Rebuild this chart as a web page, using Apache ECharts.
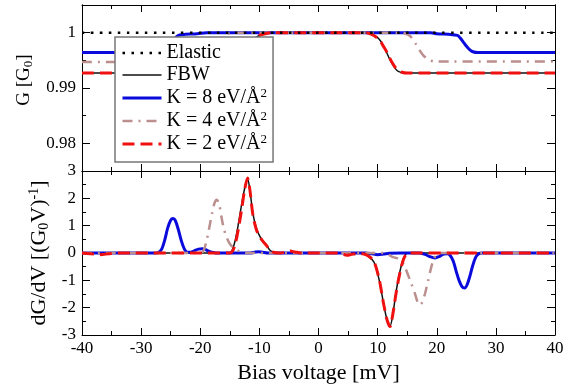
<!DOCTYPE html>
<html>
<head>
<meta charset="utf-8">
<script src="https://cdn.jsdelivr.net/npm/echarts@6/dist/echarts.min.js"></script>
<style>
  html, body { margin: 0; padding: 0; background: #fff; }
  #chart { width: 579px; height: 385px; }
</style>
</head>
<body>
<div id="chart"></div>
<script>
// conductance G [G0] vs bias voltage [mV]
const elasticG = [[-40, 1], [40, 1]];
const fbwG = [[-40, 0.9927], [-14.5, 0.9927], [-13.5, 0.9933], [-13, 0.9941], [-12.5, 0.9953], [-12, 0.9967], [-11.5, 0.9979], [-11, 0.9987], [-10.5, 0.9992], [-10, 0.9995], [-9, 0.9998], [-8, 1], [8, 1], [9, 0.9997], [10, 0.9991], [10.5, 0.9985], [11, 0.9976], [11.5, 0.9965], [12, 0.9953], [12.5, 0.9943], [13, 0.9935], [13.5, 0.9930], [14.5, 0.9927], [40, 0.9927]];
const k8G = [[-40, 0.9964], [-27, 0.9964], [-26, 0.9967], [-25.5, 0.9973], [-25, 0.998], [-24.5, 0.9987], [-24, 0.9993], [-23.5, 0.9996], [-22.5, 0.9997], [-20.5, 0.9998], [-19, 1], [19, 1], [20, 0.9998], [22, 0.9997], [23.5, 0.9995], [24, 0.999], [24.5, 0.9983], [25, 0.9976], [25.5, 0.997], [26, 0.9966], [27, 0.9964], [40, 0.9964]];
const k4G = [[-40, 0.9947], [-19.5, 0.9947], [-18.5, 0.9952], [-18, 0.996], [-17.5, 0.997], [-17, 0.998], [-16.5, 0.9989], [-16, 0.9995], [-15, 0.9999], [-14, 1], [14, 1], [15, 0.9997], [15.5, 0.9994], [16, 0.9987], [16.5, 0.9979], [17, 0.997], [17.5, 0.9962], [18, 0.9956], [18.5, 0.9952], [19.5, 0.9948], [40, 0.9948]];
const k2G = [[-40, 0.9927], [-14.5, 0.9927], [-13.5, 0.9932], [-13, 0.994], [-12.5, 0.9952], [-12, 0.9966], [-11.5, 0.9978], [-11, 0.9987], [-10.5, 0.9992], [-10, 0.9995], [-9, 0.9998], [-8, 1], [8, 1], [9, 0.9997], [10, 0.999], [10.5, 0.9984], [11, 0.9975], [11.5, 0.9966], [12, 0.9955], [12.5, 0.9945], [13, 0.9937], [13.5, 0.9932], [14, 0.9929], [15, 0.9927], [40, 0.9927]];

// dG/dV [(G0 V)^-1]
const fbwD = [[-40, 0], [-15, 0], [-14.6, 0.1], [-14.1, 0.45], [-13.6, 1.0], [-13.1, 1.65], [-12.5, 2.35], [-12, 2.72], [-11.6, 2.3], [-11.1, 1.45], [-10.5, 0.9], [-9.9, 0.6], [-9.3, 0.42], [-8.75, 0.27], [-8.2, 0.1], [-7.5, 0.02], [-6.5, 0], [6.5, 0], [7.5, -0.03], [8.5, -0.13], [9.4, -0.34], [10.3, -1.02], [11, -1.85], [11.6, -2.45], [12.1, -2.67], [12.6, -2.2], [13.1, -1.45], [13.6, -0.85], [14.2, -0.3], [14.7, -0.06], [15.2, 0], [40, 0]];
const k8D = [[-40, 0], [-27.5, 0], [-27, 0.03], [-26.5, 0.15], [-26, 0.48], [-25.5, 0.92], [-25, 1.2], [-24.6, 1.26], [-24.2, 1.18], [-23.7, 0.85], [-23.2, 0.45], [-22.7, 0.15], [-22.2, 0.03], [-21.6, 0.03], [-21, 0.08], [-20.3, 0.14], [-19.7, 0.16], [-19.1, 0.12], [-18.4, 0.05], [-17.6, 0.01], [-17, 0], [-11.5, 0], [-10.8, 0.03], [-10.2, 0.05], [-9.5, 0.03], [-8.5, 0], [8, 0], [9, -0.03], [10, -0.06], [11, -0.04], [12, -0.01], [14, 0], [17, 0], [18, -0.05], [18.8, -0.13], [19.7, -0.18], [20.5, -0.12], [21.2, -0.04], [21.8, -0.03], [22.3, -0.1], [22.8, -0.3], [23.3, -0.68], [23.8, -1.02], [24.3, -1.24], [24.7, -1.28], [25.1, -1.18], [25.6, -0.85], [26.1, -0.45], [26.6, -0.15], [27.1, -0.03], [27.6, 0], [40, 0]];
const k4D = [[-40, 0], [-20, 0], [-19.5, 0.06], [-19, 0.38], [-18.5, 0.9], [-18, 1.45], [-17.6, 1.82], [-17.2, 1.95], [-16.8, 1.78], [-16.4, 1.3], [-16, 0.88], [-15.5, 0.55], [-15, 0.34], [-14.4, 0.2], [-13.7, 0.1], [-13, 0.04], [-12, 0], [11, 0], [11.8, -0.06], [12.6, -0.15], [13.4, -0.2], [14, -0.28], [14.5, -0.45], [15.1, -0.78], [15.7, -1.12], [16.3, -1.48], [16.8, -1.82], [17.1, -1.9], [17.5, -1.82], [18, -1.5], [18.5, -1.05], [19, -0.58], [19.5, -0.22], [20, -0.05], [20.5, 0], [40, 0]];
const k2D = [[-40, 0], [-38.5, -0.03], [-37, -0.06], [-35.5, -0.03], [-34, 0], [-15, 0], [-14.5, 0.08], [-14, 0.4], [-13.5, 0.95], [-13, 1.6], [-12.5, 2.3], [-12, 2.74], [-11.6, 2.3], [-11.1, 1.4], [-10.5, 0.85], [-9.9, 0.58], [-9.3, 0.4], [-8.75, 0.26], [-8.2, 0.1], [-7.5, 0.02], [-6.5, 0], [-5.5, 0.04], [-4.8, 0.07], [-4, 0.04], [-3, 0], [3, 0], [4, -0.04], [4.8, -0.08], [5.6, -0.05], [6.5, -0.02], [7.5, -0.03], [8.5, -0.12], [9.4, -0.32], [10.3, -1.0], [11, -1.85], [11.6, -2.45], [12.1, -2.69], [12.6, -2.2], [13.1, -1.5], [13.6, -0.9], [14.2, -0.35], [14.7, -0.08], [15.2, 0], [40, 0]];

const legendNames = ['Elastic', 'FBW', 'K = 8 eV/Å', 'K = 4 eV/Å', 'K = 2 eV/Å'];
const gMajor = [0.98, 0.99, 1];
const gMinor = [0.985, 0.995];

const font = 'Liberation Serif';
const ink = '#000';

function xFrame(grid, pos, labels, name) {
  return {
    type: 'value', gridIndex: grid, position: pos, min: -40, max: 40, interval: 10,
    name: name, nameLocation: 'middle', nameGap: 27,
    nameTextStyle: { fontFamily: font, fontSize: 22, color: ink },
    axisLine: { show: true, onZero: false, lineStyle: { color: ink, width: 1 } },
    axisTick: { show: true, inside: true, length: 7, lineStyle: { color: ink } },
    minorTick: { show: true, splitNumber: 2, length: 4, lineStyle: { color: ink } },
    splitLine: { show: false },
    axisLabel: { show: labels, color: ink, fontFamily: font, fontSize: 17, margin: 5 }
  };
}

function yG(pos, values, len, labels) {
  return {
    type: 'value', gridIndex: 0, position: pos, min: 0.975, max: 1.005,
    axisLine: { show: true, onZero: false, lineStyle: { color: ink, width: 1 } },
    axisTick: { show: true, inside: true, length: len, customValues: values, lineStyle: { color: ink } },
    splitLine: { show: false },
    axisLabel: {
      show: labels, customValues: values, color: ink, fontFamily: font, fontSize: 17, margin: 6,
      formatter: v => String(+v.toFixed(2))
    }
  };
}

const chart = echarts.init(document.getElementById('chart'));

// spacer token at the start lifts the rotated title a little above the panel centre
const gLeft = yG('left', gMajor, 8, true);
gLeft.name = '{sp|}{n|G [G}{b|0}{n|]}';
gLeft.nameLocation = 'middle';
gLeft.nameGap = 40;
gLeft.nameTextStyle = {
  color: ink,
  rich: {
    sp: { width: 16, fontSize: 19, lineHeight: 22 },
    n: { fontFamily: font, fontSize: 19, lineHeight: 22, color: ink },
    b: { fontFamily: font, fontSize: 13, lineHeight: 12, verticalAlign: 'bottom', color: ink }
  }
};

function line(name, data, xi, yi, color, width, type, z) {
  return {
    name: name, type: 'line', data: data, xAxisIndex: xi, yAxisIndex: yi,
    showSymbol: false, symbol: 'none', smooth: 0.3, z: z,
    lineStyle: { color: color, width: width, type: type, cap: 'butt' },
    itemStyle: { color: color }
  };
}

const colElastic = '#000';
const colFbw = '#111';
const colK8 = '#0a0adc';
const colK4 = '#bc8f8f';
const colK2 = '#f01010';

chart.setOption({
  animation: false,
  backgroundColor: '#fff',
  grid: [
    { left: 82, top: 5, width: 473, height: 166 },
    { left: 82, top: 171, width: 473, height: 167 }
  ],
  xAxis: [
    xFrame(0, 'bottom', false),
    xFrame(0, 'top', false),
    xFrame(1, 'bottom', true, 'Bias voltage [mV]'),
    xFrame(1, 'top', false)
  ],
  yAxis: [
    gLeft,
    yG('right', gMajor, 8, false),
    yG('right', gMinor, 4, false),
    yG('left', gMinor, 4, false),
    {
      type: 'value', gridIndex: 1, position: 'left', min: -3, max: 3, interval: 1,
      name: '{n|dG/dV [(G}{b|0}{n|V)}{p|-1}{n|]}', nameLocation: 'middle', nameGap: 30,
      nameTextStyle: {
        color: ink,
        rich: {
          n: { fontFamily: font, fontSize: 22, lineHeight: 24, color: ink },
          b: { fontFamily: font, fontSize: 14, lineHeight: 12, verticalAlign: 'bottom', color: ink },
          p: { fontFamily: font, fontSize: 14, lineHeight: 6, verticalAlign: 'top', color: ink }
        }
      },
      axisLine: { show: true, onZero: false, lineStyle: { color: ink, width: 1 } },
      axisTick: { show: true, inside: true, length: 8, lineStyle: { color: ink } },
      minorTick: { show: true, splitNumber: 2, length: 4, lineStyle: { color: ink } },
      splitLine: { show: false },
      axisLabel: { color: ink, fontFamily: font, fontSize: 17, margin: 6 }
    },
    {
      type: 'value', gridIndex: 1, position: 'right', min: -3, max: 3, interval: 1,
      axisLine: { show: true, onZero: false, lineStyle: { color: ink, width: 1 } },
      axisTick: { show: true, inside: true, length: 8, lineStyle: { color: ink } },
      minorTick: { show: true, splitNumber: 2, length: 4, lineStyle: { color: ink } },
      splitLine: { show: false },
      axisLabel: { show: false }
    }
  ],
  legend: {
    data: legendNames,
    orient: 'vertical', left: 115, top: 37,
    backgroundColor: '#fff', borderColor: '#777', borderWidth: 1.5, borderRadius: 0,
    padding: [6, 6, 8, 6], itemWidth: 39, itemHeight: 14, itemGap: 2,
    lineStyle: { width: 'inherit' },
    itemStyle: { color: 'rgba(0,0,0,0)', borderColor: 'rgba(0,0,0,0)', borderWidth: 0 },
    formatter: n => n.startsWith('K') ? '{t|' + n + '}{s|2}' : '{t|' + n + '}',
    textStyle: {
      color: ink,
      rich: {
        t: { fontFamily: font, fontSize: 20, lineHeight: 22, color: ink },
        s: { fontFamily: font, fontSize: 13, lineHeight: 4, verticalAlign: 'top', color: ink }
      }
    },
    z: 10
  },
  series: [
    line('FBW', fbwG, 0, 0, colFbw, 1.5, 'solid', 2),
    line('K = 8 eV/Å', k8G, 0, 0, colK8, 3, 'solid', 3),
    line('K = 4 eV/Å', k4G, 0, 0, colK4, 2.5, [10, 6, 2, 6], 4),
    line('K = 2 eV/Å', k2G, 0, 0, colK2, 3, [12, 6], 5),
    line('Elastic', elasticG, 0, 0, colElastic, 2.5, [2.5, 6.5], 6),
    line('FBW', fbwD, 2, 4, colFbw, 1.5, 'solid', 2),
    line('K = 8 eV/Å', k8D, 2, 4, colK8, 3, 'solid', 3),
    line('K = 4 eV/Å', k4D, 2, 4, colK4, 2.5, [10, 6, 2, 6], 4),
    line('K = 2 eV/Å', k2D, 2, 4, colK2, 3, [12, 6], 5)
  ]
});
</script>
</body>
</html>
